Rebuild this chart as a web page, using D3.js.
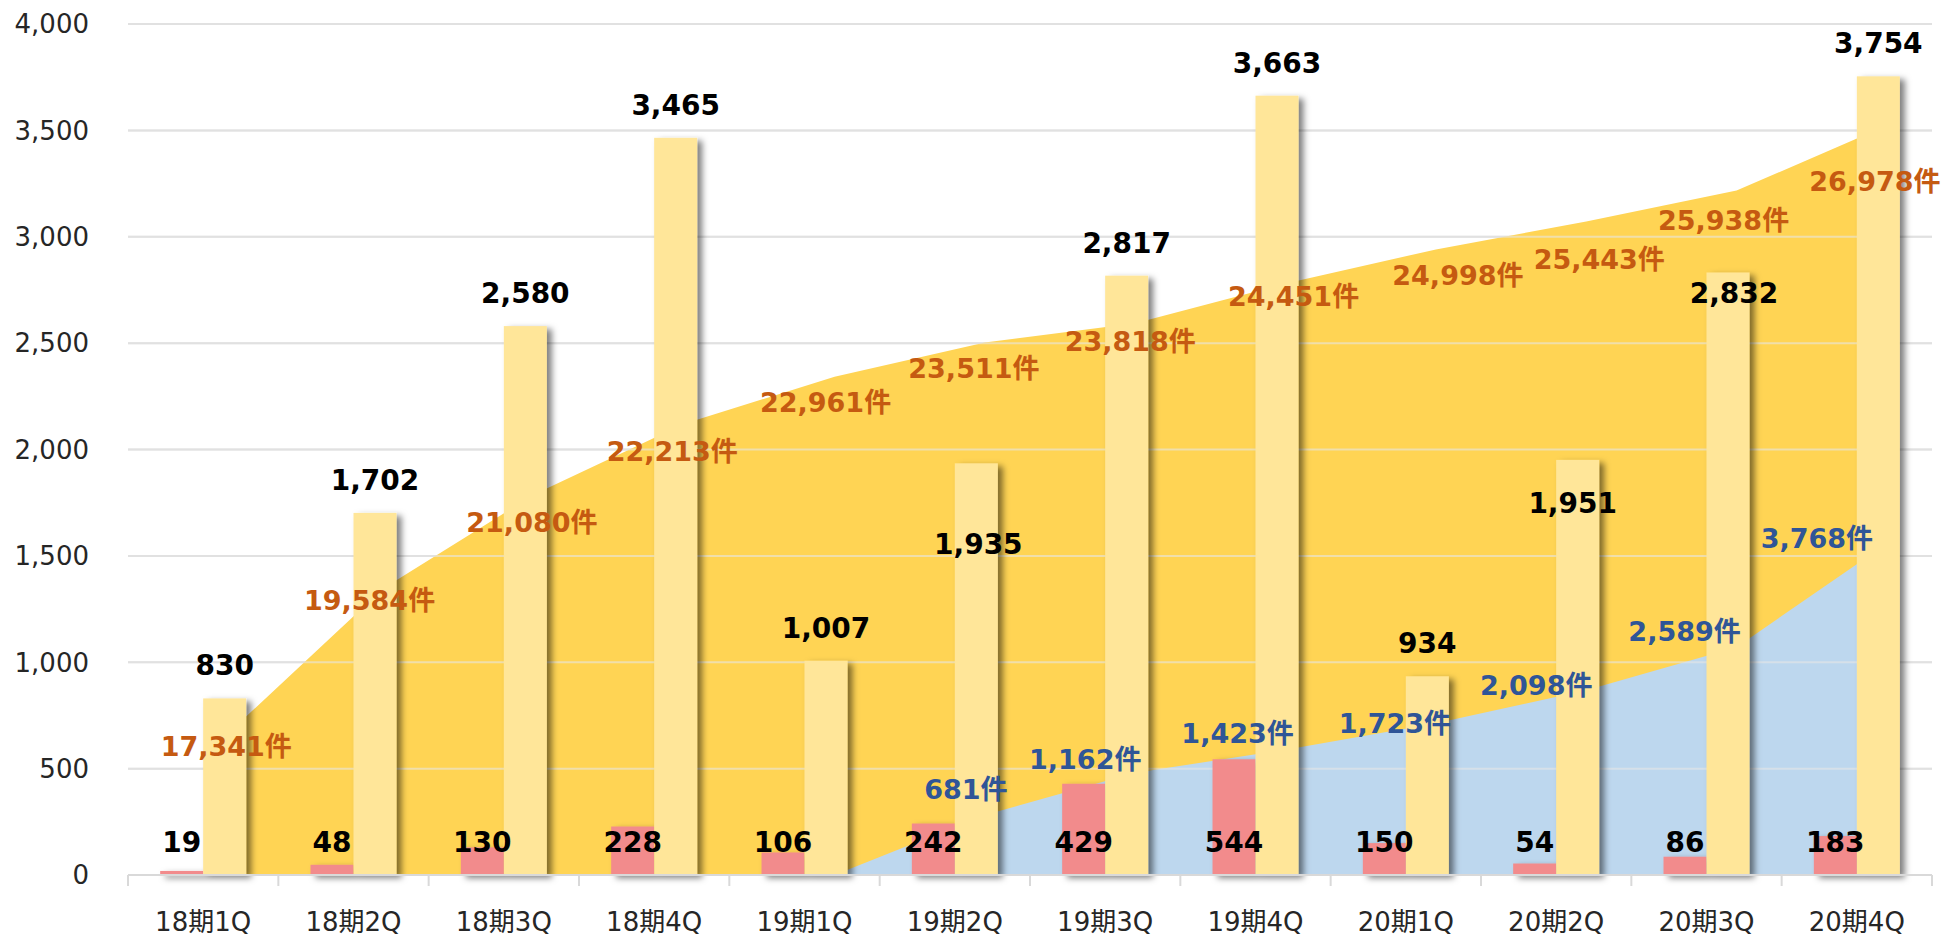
<!DOCTYPE html>
<html>
<head>
<meta charset="utf-8">
<script src="https://cdn.jsdelivr.net/npm/d3@7"></script>
<style>
  body { margin: 0; background: #fff; }
  text { font-family: "DejaVu Sans", "Noto Sans CJK JP", sans-serif; }
</style>
</head>
<body>
<script>
  // data
  var categories = ["18期1Q", "18期2Q", "18期3Q", "18期4Q",
                    "19期1Q", "19期2Q", "19期3Q", "19期4Q",
                    "20期1Q", "20期2Q", "20期3Q", "20期4Q"];
  var newCounts   = [19, 48, 130, 228, 106, 242, 429, 544, 150, 54, 86, 183];
  var totalCounts = [830, 1702, 2580, 3465, 1007, 1935, 2817, 3663, 934, 1951, 2832, 3754];
  var cumulativeA = [17341, 19584, 21080, 22213, 22961, 23511, 23818, 24451, 24998, 25443, 25938, 26978];
  var cumulativeB = [0, 0, 0, 0, 0, 681, 1162, 1423, 1723, 2098, 2589, 3768];
  var yTicks = [0, 500, 1000, 1500, 2000, 2500, 3000, 3500, 4000];

  var w = 1944, h = 937,
      plotL = 128, plotR = 1932, plotT = 24, plotB = 875;

  var fmt = d3.format(",");

  var svg = d3.select("body").append("svg")
    .attr("width", w)
    .attr("height", h);

  var defs = svg.append("defs");
  defs.append("filter")
      .attr("id", "shadow")
      .attr("x", "-30%").attr("y", "-10%")
      .attr("width", "180%").attr("height", "130%")
    .append("feDropShadow")
      .attr("dx", 5).attr("dy", 3)
      .attr("stdDeviation", 3)
      .attr("flood-color", "#000")
      .attr("flood-opacity", 0.5);

  // scales
  var x = d3.scaleBand().domain(categories).range([plotL, plotR]);
  var step = x.step(),
      bw = step * 0.286;
  var y = d3.scaleLinear().domain([0, 4000]).range([plotB, plotT]);
  // hidden secondary scales for the two areas
  var yA = d3.scaleLinear().domain([15000, 28600]).range([plotB, plotT]);
  var yB = d3.scaleLinear().domain([0, 9670]).range([plotB, plotT]);

  var ax = function(i) { return x(categories[i]) + step * 0.7; };

  // gridlines
  svg.append("g").selectAll("line")
    .data(yTicks.slice(1))
    .enter().append("line")
      .attr("x1", plotL).attr("x2", plotR)
      .attr("y1", function(d) { return y(d); })
      .attr("y2", function(d) { return y(d); })
      .attr("stroke", "#d9d9d9")
      .attr("stroke-width", 2);

  // areas
  var areaA = d3.area()
    .x(function(d, i) { return ax(i); })
    .y0(plotB)
    .y1(function(d) { return yA(d); });
  var areaB = d3.area()
    .x(function(d, i) { return ax(i); })
    .y0(plotB)
    .y1(function(d) { return yB(d); });

  svg.append("path").datum(cumulativeA)
    .attr("d", areaA)
    .attr("fill", "#ffd454");
  svg.append("path").datum(cumulativeB)
    .attr("d", areaB)
    .attr("fill", "#bdd7ee");

  // gridlines showing through the areas
  svg.append("g").selectAll("line")
    .data(yTicks.slice(1))
    .enter().append("line")
      .attr("x1", plotL).attr("x2", plotR)
      .attr("y1", function(d) { return y(d); })
      .attr("y2", function(d) { return y(d); })
      .attr("stroke", "#e6e6e6")
      .attr("stroke-opacity", 0.6)
      .attr("stroke-width", 2);

  // bars
  var bars = svg.append("g").attr("filter", "url(#shadow)");
  bars.selectAll("rect.pink")
    .data(newCounts)
    .enter().append("rect")
      .attr("class", "pink")
      .attr("x", function(d, i) { return x(categories[i]) + step / 2 - bw; })
      .attr("y", function(d) { return y(d); })
      .attr("width", bw)
      .attr("height", function(d) { return plotB - y(d); })
      .attr("fill", "#f28b8c");
  bars.selectAll("rect.total")
    .data(totalCounts)
    .enter().append("rect")
      .attr("class", "total")
      .attr("x", function(d, i) { return x(categories[i]) + step / 2; })
      .attr("y", function(d) { return y(d); })
      .attr("width", bw)
      .attr("height", function(d) { return plotB - y(d); })
      .attr("fill", "#ffe699");

  // x axis line and ticks
  var axis = svg.append("g");
  axis.append("line")
    .attr("x1", plotL).attr("x2", plotR)
    .attr("y1", plotB).attr("y2", plotB)
    .attr("stroke", "#d9d9d9").attr("stroke-width", 2);
  axis.selectAll("line.tick")
    .data(d3.range(categories.length + 1))
    .enter().append("line")
      .attr("class", "tick")
      .attr("x1", function(i) { return plotL + i * step; })
      .attr("x2", function(i) { return plotL + i * step; })
      .attr("y1", plotB).attr("y2", plotB + 11)
      .attr("stroke", "#d9d9d9").attr("stroke-width", 2);

  axis.selectAll("text.cat")
    .data(categories)
    .enter().append("text")
      .attr("class", "cat")
      .attr("x", function(d) { return x(d) + step / 2; })
      .attr("y", 922)
      .attr("dy", "0.36em")
      .attr("text-anchor", "middle")
      .attr("font-size", 26)
      .attr("fill", "#262626")
      .text(function(d) { return d; });

  svg.append("g").selectAll("text")
    .data(yTicks)
    .enter().append("text")
      .attr("x", 89)
      .attr("y", function(d) { return y(d); })
      .attr("dy", "0.36em")
      .attr("text-anchor", "end")
      .attr("font-size", 26)
      .attr("fill", "#262626")
      .text(function(d) { return fmt(d); });

  // labels (some were nudged by hand in the original)
  var totalNudge = { 5: [2, 114], 9: [-5, 76], 10: [6, 53] };
  var nudgeA = [[-7,18],[-14,12],[-2,28],[-12,28],[-9,25],[-11,26],[-5,18],[8,13],[22,26],[13,38],[-13,30],[-12,56]];
  var nudgeB = [[0,0],[0,0],[0,0],[0,0],[0,0],[-19,-26],[-50,-13],[-48,-16],[-41,0],[-50,-5],[-52,-16],[-70,-5]];

  var labels = svg.append("g")
    .attr("font-weight", "bold");

  labels.selectAll("text.new")
    .data(newCounts)
    .enter().append("text")
      .attr("class", "new")
      .attr("x", function(d, i) { return x(categories[i]) + step / 2 - bw / 2; })
      .attr("y", 842)
      .attr("dy", "0.36em")
      .attr("text-anchor", "middle")
      .attr("font-size", 28)
      .attr("fill", "#000")
      .text(function(d) { return fmt(d); });

  labels.selectAll("text.total")
    .data(totalCounts)
    .enter().append("text")
      .attr("class", "total")
      .attr("x", function(d, i) {
        var n = totalNudge[i] ? totalNudge[i][0] : 0;
        return x(categories[i]) + step / 2 + bw / 2 + n;
      })
      .attr("y", function(d, i) {
        var n = totalNudge[i] ? totalNudge[i][1] : 0;
        return y(d) - 33 + n;
      })
      .attr("dy", "0.36em")
      .attr("text-anchor", "middle")
      .attr("font-size", 28)
      .attr("fill", "#000")
      .text(function(d) { return fmt(d); });

  labels.selectAll("text.cumA")
    .data(cumulativeA)
    .enter().append("text")
      .attr("class", "cumA")
      .attr("x", function(d, i) { return ax(i) + nudgeA[i][0]; })
      .attr("y", function(d, i) { return yA(d) + nudgeA[i][1]; })
      .attr("dy", "0.36em")
      .attr("text-anchor", "middle")
      .attr("font-size", 27)
      .attr("fill", "#c55a11")
      .text(function(d) { return fmt(d) + "件"; });

  // blue labels only where the value is non-zero
  var bPoints = cumulativeB
    .map(function(v, i) { return { v: v, i: i }; })
    .filter(function(p) { return p.v > 0; });

  labels.selectAll("text.cumB")
    .data(bPoints)
    .enter().append("text")
      .attr("class", "cumB")
      .attr("x", function(p) { return ax(p.i) + nudgeB[p.i][0]; })
      .attr("y", function(p) { return yB(p.v) + nudgeB[p.i][1]; })
      .attr("dy", "0.36em")
      .attr("text-anchor", "middle")
      .attr("font-size", 27)
      .attr("fill", "#2f5597")
      .text(function(p) { return fmt(p.v) + "件"; });
</script>
</body>
</html>
